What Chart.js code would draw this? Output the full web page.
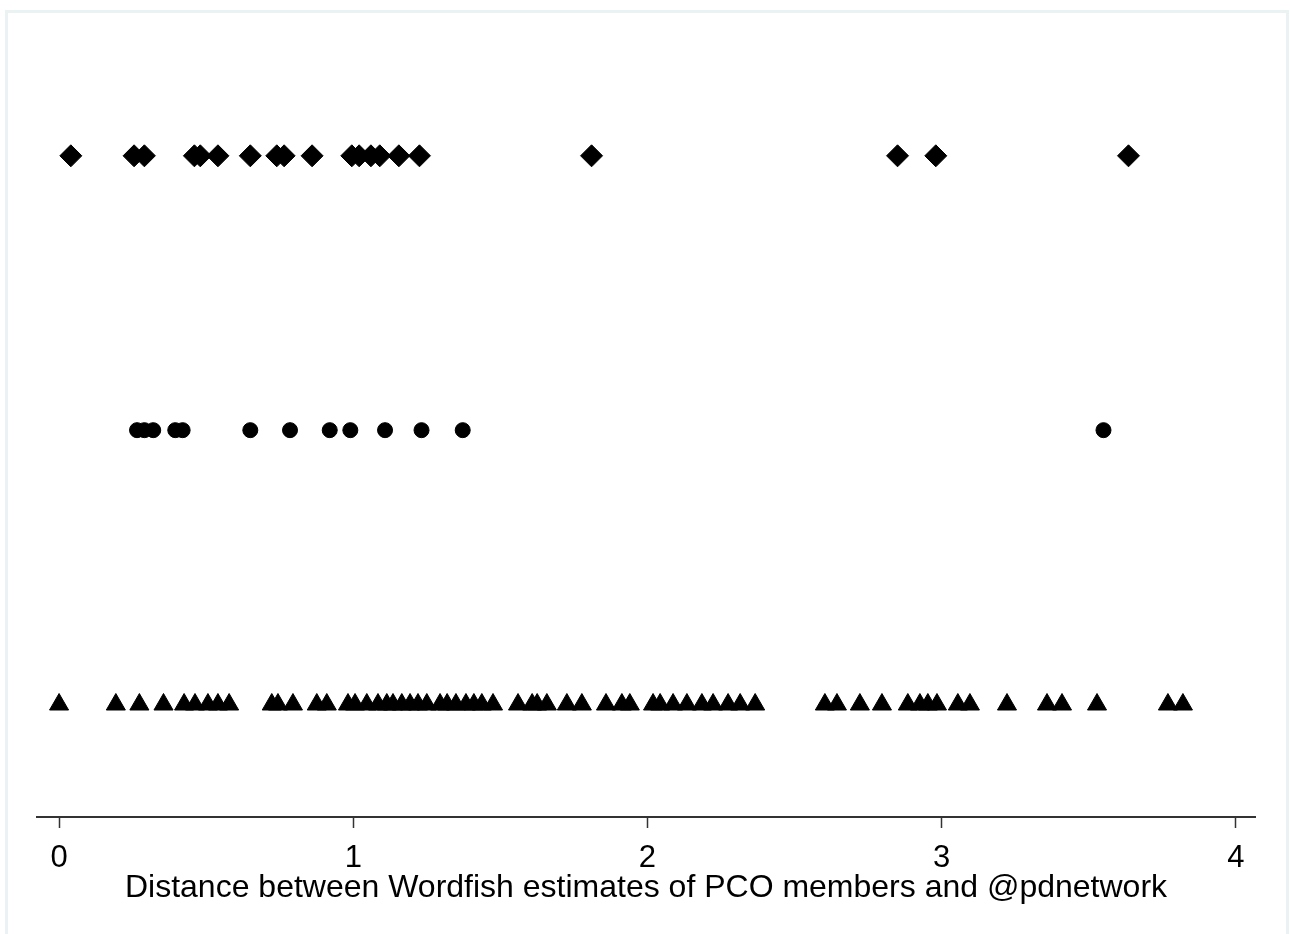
<!DOCTYPE html>
<html>
<head>
<meta charset="utf-8">
<script src="https://cdn.jsdelivr.net/npm/chart.js@4.4.1/dist/chart.umd.min.js"></script>
<style>
  html, body { margin: 0; padding: 0; background: #ffffff; }
  #frame { position: absolute; left: 5px; top: 10px; width: 1284px; height: 940px; border: 3px solid #eaf2f3; box-sizing: border-box; }
  #wrap { position: absolute; left: 0; top: 0; width: 1290px; height: 934px; }
</style>
</head>
<body>
<div id="frame"></div>
<div id="wrap"><canvas id="c" width="1290" height="934"></canvas></div>
<script>
// Row 3 (diamonds), row 2 (circles), row 1 (triangles): distance values
const diamondValues = [0.04, 0.255, 0.29, 0.46, 0.48, 0.54, 0.65, 0.74, 0.765, 0.86,
  0.995, 1.02, 1.06, 1.09, 1.155, 1.225, 1.81, 2.85, 2.98, 3.635];
const circleValues = [0.265, 0.29, 0.32, 0.395, 0.42, 0.65, 0.785, 0.92, 0.99, 1.108,
  1.232, 1.372, 3.55];
const triangleValues = [0.00, 0.193, 0.273, 0.355, 0.425, 0.462, 0.506, 0.54, 0.578,
  0.723, 0.744, 0.795, 0.876, 0.91, 0.982, 1.006, 1.046, 1.084, 1.114, 1.135, 1.165,
  1.193, 1.22, 1.25, 1.295, 1.319, 1.349, 1.383, 1.41, 1.437, 1.475, 1.56, 1.608,
  1.625, 1.658, 1.726, 1.777, 1.859, 1.913, 1.94, 2.019, 2.043, 2.087, 2.134, 2.185,
  2.223, 2.274, 2.315, 2.366, 2.603, 2.644, 2.722, 2.797, 2.885, 2.926, 2.953, 2.984,
  3.055, 3.096, 3.222, 3.358, 3.409, 3.528, 3.769, 3.82];
const rowDiamond = 3, rowCircle = 2, rowTriangle = 1;
const tickValues = [0, 1, 2, 3, 4];
const xTitle = 'Distance between Wordfish estimates of PCO members and @pdnetwork';

const toPts = (arr, row) => arr.map(v => ({ x: v, y: row }));

const fontFamily = '"Liberation Sans", Arial, sans-serif';

new Chart(document.getElementById('c'), {
  type: 'scatter',
  data: {
    datasets: [
      { data: toPts(diamondValues, rowDiamond), pointStyle: 'rectRot', pointRadius: 11,
        backgroundColor: '#000', borderColor: '#000', borderWidth: 1 },
      { data: toPts(circleValues, rowCircle), pointStyle: 'circle', pointRadius: 7.5,
        backgroundColor: '#000', borderColor: '#000', borderWidth: 1 },
      { data: toPts(triangleValues, rowTriangle), pointStyle: 'triangle', pointRadius: 11,
        backgroundColor: '#000', borderColor: '#000', borderWidth: 1 }
    ]
  },
  options: {
    responsive: false,
    animation: false,
    events: [],
    layout: { padding: { left: 37, right: 35, top: 20, bottom: 0 } },
    plugins: { legend: { display: false }, tooltip: { enabled: false } },
    scales: {
      y: { display: false, min: 0.59, max: 3.495 },
      x: {
        type: 'linear', min: -0.075, max: 4.065,
        afterBuildTicks: s => { s.ticks = tickValues.map(v => ({ value: v })); },
        afterFit: s => { s.height = 117; },
        border: { display: true, color: '#333', width: 2 },
        grid: { display: true, drawOnChartArea: false, drawTicks: true, tickLength: 11,
          tickColor: '#333', tickWidth: 1.5 },
        ticks: { color: '#000', font: { family: fontFamily, size: 31 }, padding: 12,
          maxRotation: 0, autoSkip: false },
        title: { display: true, text: xTitle, color: '#000',
          font: { family: fontFamily, size: 32 }, padding: { top: 0, bottom: 27 } }
      }
    }
  }
});
</script>
</body>
</html>
